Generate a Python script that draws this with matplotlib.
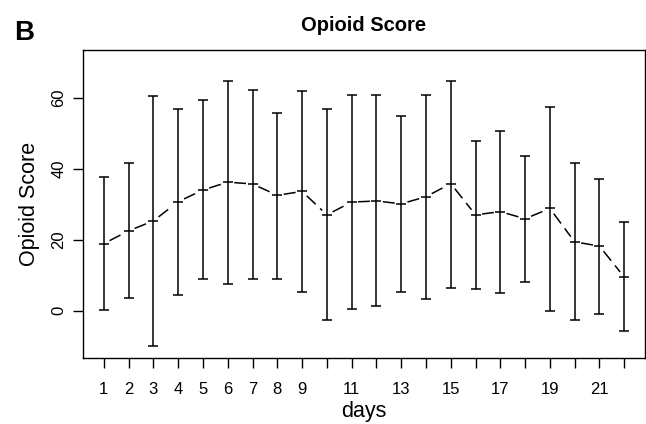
import numpy as np
import matplotlib
matplotlib.use('Agg')
import matplotlib.pyplot as plt

plt.rcParams['font.family'] = ['Liberation Sans', 'DejaVu Sans']

# Values (mean and whisker ends per day)
days = list(range(1, 23))
meanScore = [18.9, 22.5, 25.3, 30.7, 34.0, 36.2, 35.7, 32.5, 33.6, 27.0, 30.6,
             30.9, 30.1, 32.1, 35.8, 27.0, 27.9, 25.9, 28.8, 19.4, 18.2, 9.5]
upperScore = [37.7, 41.5, 60.4, 56.9, 59.2, 64.8, 62.2, 55.8, 62.0, 56.7, 60.6,
              60.6, 54.9, 60.8, 64.8, 47.9, 50.7, 43.6, 57.5, 41.6, 37.2, 24.9]
lowerScore = [0.1, 3.6, -9.9, 4.4, 8.8, 7.4, 8.8, 9.0, 5.2, -2.6, 0.6,
              1.2, 5.2, 3.4, 6.4, 6.0, 4.9, 8.2, 0.0, -2.6, -0.8, -5.8]
xTickLabels = ['1', '2', '3', '4', '5', '6', '7', '8', '9', '', '11', '', '13', '',
               '15', '', '17', '', '19', '', '21', '']
yTicks = [0, 20, 40, 60]

fig = plt.figure(figsize=(6.46, 4.24), dpi=100)
ax = fig.add_axes([0.1285, 0.1557, 0.870, 0.7263])
ax.set_xlim(0.16, 22.84)
ax.set_ylim(-13.3, 73.4)

means = np.array(meanScore)
yerr = np.array([means - np.array(lowerScore), np.array(upperScore) - means])
ax.errorbar(days, meanScore, yerr=yerr, fmt='none', ecolor='black',
            elinewidth=1.1, capsize=3.6, capthick=1.1)
ax.plot(days, meanScore, linestyle='none', marker='_', markersize=7,
        markeredgewidth=1.1, color='black')

# dashed connecting line with small gaps around each point (like R type="b")
fig.canvas.draw()
pts = ax.transData.transform(np.column_stack([days, meanScore]))
gap = 6.5
for (x0, y0), (x1, y1) in zip(pts[:-1], pts[1:]):
    d = np.hypot(x1 - x0, y1 - y0)
    ux, uy = (x1 - x0) / d, (y1 - y0) / d
    seg = np.array([[x0 + ux * gap, y0 + uy * gap], [x1 - ux * gap, y1 - uy * gap]])
    seg = ax.transData.inverted().transform(seg)
    ax.plot(seg[:, 0], seg[:, 1], color='black', lw=1.1, dashes=(8, 4))

ax.set_xticks(days)
ax.set_xticklabels(xTickLabels)
ax.set_yticks(yTicks)
ax.set_yticklabels([str(v) for v in yTicks], rotation=90, va='center')
ax.tick_params(axis='both', direction='out', length=7, width=1.0, labelsize=12,
               color='black')
ax.tick_params(axis='x', pad=10)
ax.tick_params(axis='y', pad=5)
for s in ax.spines.values():
    s.set_linewidth(1.0)

ax.set_xlabel('days', fontsize=15.5, labelpad=3)
ax.set_ylabel('Opioid Score', fontsize=15.5, labelpad=8)
ax.set_title('Opioid Score', fontsize=14.5, fontweight='bold', pad=14)
fig.text(0.022, 0.905, 'B', fontsize=20, fontweight='bold')

fig.savefig('out.png', dpi=100)
